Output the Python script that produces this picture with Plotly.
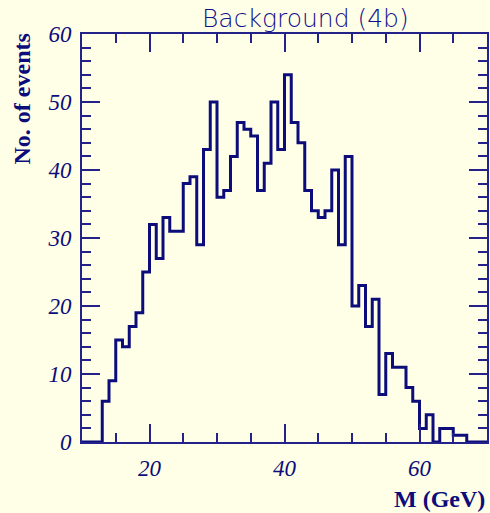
import plotly.graph_objects as go

bin_left_edges = list(range(10, 70))
counts = [0, 0, 0, 6, 9, 15, 14, 17, 19, 25,
          32, 27, 33, 31, 31, 38, 39, 29, 43, 50,
          36, 37, 42, 47, 46, 45, 37, 41, 50, 43,
          54, 47, 44, 37, 34, 33, 34, 40, 29, 42,
          20, 23, 17, 21, 7, 13, 11, 11, 8, 6,
          2, 4, 0, 2, 2, 1, 1, 0, 0, 0]
x_tickvals = [20, 40, 60]
y_tickvals = [0, 10, 20, 30, 40, 50, 60]

navy = "#0c0c7a"
axis_col = "#22228a"
bg = "#FFFFE8"

xs = bin_left_edges + [70]
ys = counts + [counts[-1]]

fig = go.Figure()
fig.add_trace(go.Scatter(x=xs, y=ys, mode="lines", line=dict(shape="hv", color=navy, width=3),
                         hoverinfo="skip", showlegend=False))

tickfont = dict(family="Liberation Serif", size=23, color=navy, style="italic")
fig.update_layout(
    width=490, height=513,
    margin=dict(l=82, r=1, t=34, b=71),
    paper_bgcolor=bg, plot_bgcolor=bg,
    xaxis=dict(range=[10, 70], tickvals=x_tickvals, ticks="inside", ticklen=18, tickwidth=1.5,
               tickcolor=axis_col, showline=True, linecolor=axis_col, linewidth=2, mirror="allticks",
               showgrid=False, zeroline=False, tickfont=tickfont, ticklabelstandoff=4,
               minor=dict(dtick=5, tick0=0, ticks="inside", ticklen=9, tickwidth=1.5, tickcolor=axis_col, showgrid=False)),
    yaxis=dict(range=[0, 60], tickvals=y_tickvals, ticks="inside", ticklen=18, tickwidth=1.5,
               tickcolor=axis_col, showline=True, linecolor=axis_col, linewidth=2, mirror="allticks",
               showgrid=False, zeroline=False, tickfont=tickfont, ticklabelstandoff=4,
               minor=dict(dtick=2, tick0=0, ticks="inside", ticklen=9, tickwidth=1.5, tickcolor=axis_col, showgrid=False)),
    annotations=[
        dict(text="Background (4b)", xref="paper", yref="paper", x=0.551, y=1.0, yshift=-1,
             xanchor="center", yanchor="bottom", showarrow=False,
             font=dict(family="DejaVu Sans", size=25, color="#10108a", weight=200)),
        dict(text="<b>No. of events</b>", xref="paper", yref="paper", x=0, xshift=-46, y=1.0, yshift=2,
             xanchor="right", yanchor="top", textangle=-90, showarrow=False,
             font=dict(family="Liberation Serif", size=24, color=navy)),
        dict(text="<b>M (GeV)</b>", xref="paper", yref="paper", x=1.0, y=0, yshift=-42,
             xanchor="right", yanchor="top", showarrow=False,
             font=dict(family="Liberation Serif", size=24, color=navy)),
    ],
)
fig.write_html("out.html", config={"displayModeBar": False},
               post_script="document.body.style.margin='0';document.body.style.overflow='hidden';")
